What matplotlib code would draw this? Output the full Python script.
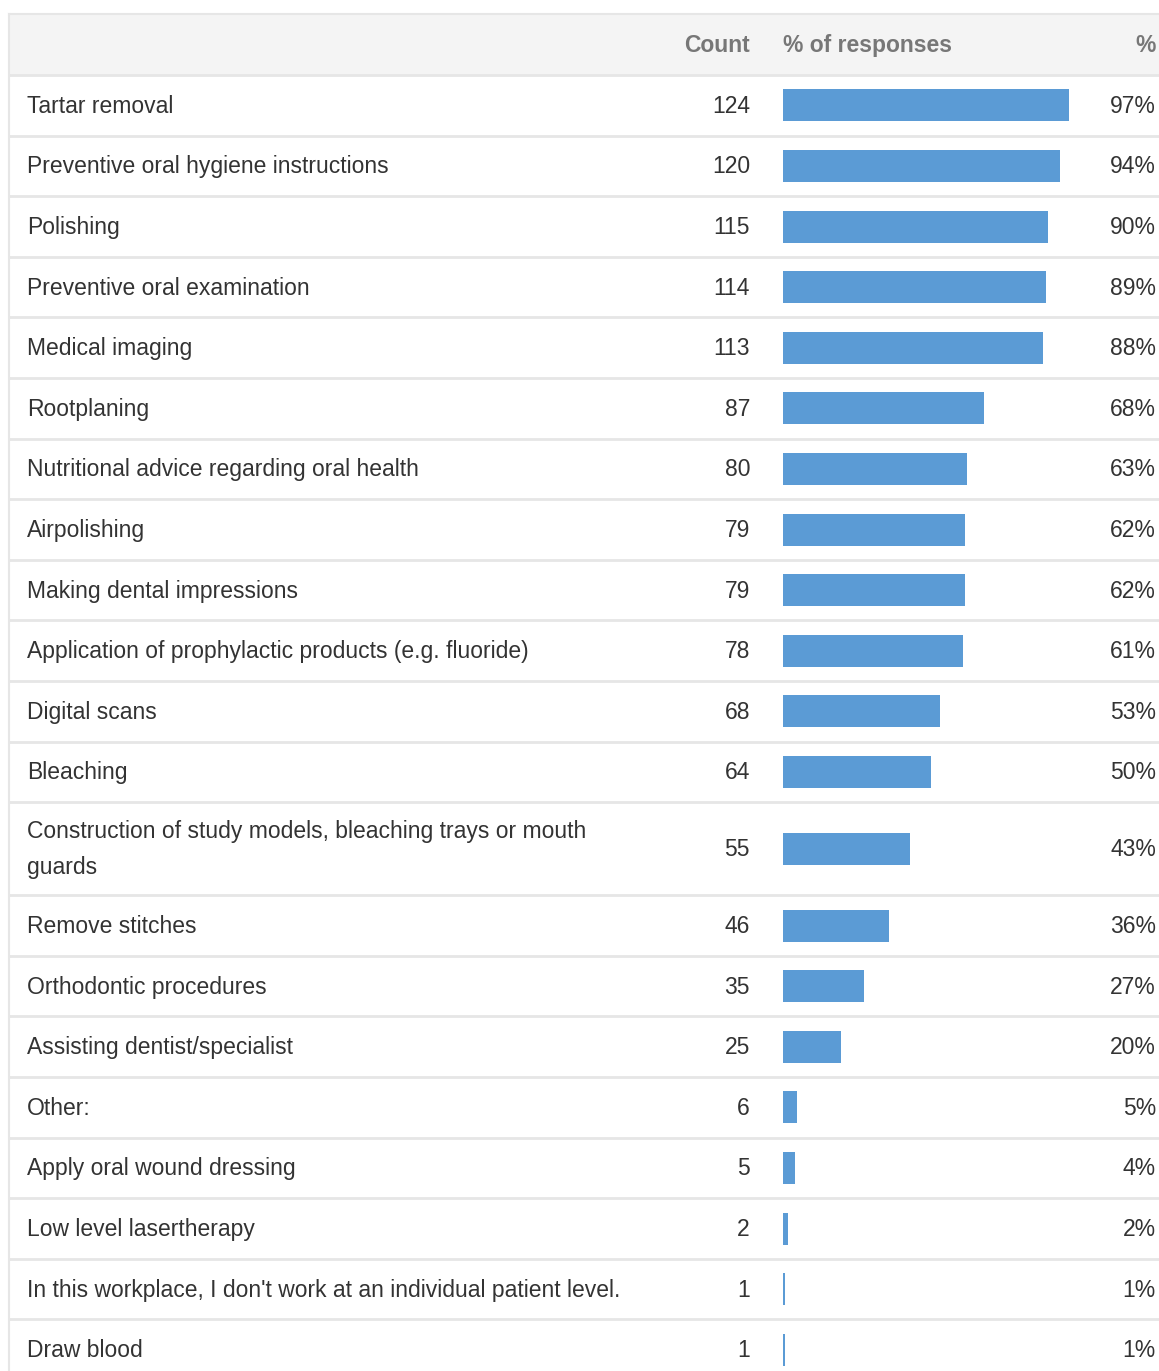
import matplotlib
matplotlib.use("Agg")
import matplotlib.pyplot as plt
from matplotlib.patches import Rectangle

plt.rcParams['font.family'] = ['Liberation Sans', 'DejaVu Sans']

# ---- data ----
categories = [
    "Tartar removal",
    "Preventive oral hygiene instructions",
    "Polishing",
    "Preventive oral examination",
    "Medical imaging",
    "Rootplaning",
    "Nutritional advice regarding oral health",
    "Airpolishing",
    "Making dental impressions",
    "Application of prophylactic products (e.g. fluoride)",
    "Digital scans",
    "Bleaching",
    "Construction of study models, bleaching trays or mouth\nguards",
    "Remove stitches",
    "Orthodontic procedures",
    "Assisting dentist/specialist",
    "Other:",
    "Apply oral wound dressing",
    "Low level lasertherapy",
    "In this workplace, I don't work at an individual patient level.",
    "Draw blood",
]
counts = [124, 120, 115, 114, 113, 87, 80, 79, 79, 78, 68, 64, 55, 46, 35, 25, 6, 5, 2, 1, 1]
pct_labels = ["97%", "94%", "90%", "89%", "88%", "68%", "63%", "62%", "62%", "61%",
              "53%", "50%", "43%", "36%", "27%", "20%", "5%", "4%", "2%", "1%", "1%"]
total_respondents = 128
header = ["Count", "% of responses", "%"]

# ---- layout (pixels) ----
W, H = 1159, 1371
DPI = 100
table_left = 9
table_top = 14
header_h = 61
row_h = 60.6
tall_row_h = 93
x_label = 27
x_count = 750
x_bar = 783
bar_full = 295
x_pct = 1156
bar_h = 32
grid_color = "#e6e6e6"
text_color = "#333333"
header_color = "#777777"
bar_color = "#5b9bd5"
fs = 16.5

fig = plt.figure(figsize=(W / DPI, H / DPI), dpi=DPI)
ax = fig.add_axes([0, 0, 1, 1])
ax.set_xlim(0, W)
ax.set_ylim(H, 0)
ax.axis("off")

# header background
ax.add_patch(Rectangle((table_left, table_top), W - table_left, header_h,
                       facecolor="#f4f4f4", edgecolor="none", zorder=0))
ax.plot([table_left, W], [table_top, table_top], color=grid_color, lw=1.5, zorder=1)
hy = table_top + header_h / 2 + 1
ax.text(x_count, hy, header[0], ha="right", va="center", fontsize=fs,
        fontweight="bold", color=header_color)
ax.text(x_bar, hy, header[1], ha="left", va="center", fontsize=fs,
        fontweight="bold", color=header_color)
ax.text(x_pct, hy, header[2], ha="right", va="center", fontsize=fs,
        fontweight="bold", color=header_color)

# rows
y = table_top + header_h
centers = []
for cat in categories:
    h = tall_row_h if "\n" in cat else row_h
    ax.plot([table_left, W], [y, y], color=grid_color, lw=2, zorder=1)
    c = y + h / 2
    centers.append(c)
    y += h
ax.plot([table_left, W], [y, y], color=grid_color, lw=2, zorder=1)
ax.plot([table_left, table_left], [table_top, H], color=grid_color, lw=1.5, zorder=1)

for cat, cnt, pl, c in zip(categories, counts, pct_labels, centers):
    ax.text(x_label, c + 1, cat, ha="left", va="center", fontsize=fs,
            color=text_color, linespacing=1.75)
    ax.text(x_count, c + 1, str(cnt), ha="right", va="center", fontsize=fs, color=text_color)
    ax.text(x_pct, c + 1, pl, ha="right", va="center", fontsize=fs, color=text_color)

# bars on their own axes: x in fraction of respondents, y shared pixels
bax = fig.add_axes([x_bar / W, 0, bar_full / W, 1])
bax.set_xlim(0, 1)
bax.set_ylim(H, 0)
bax.axis("off")
bax.patch.set_alpha(0)
bax.barh(centers, [c / total_respondents for c in counts], height=bar_h,
         left=0, color=bar_color, edgecolor="none")

fig.savefig("out.png", dpi=DPI)
